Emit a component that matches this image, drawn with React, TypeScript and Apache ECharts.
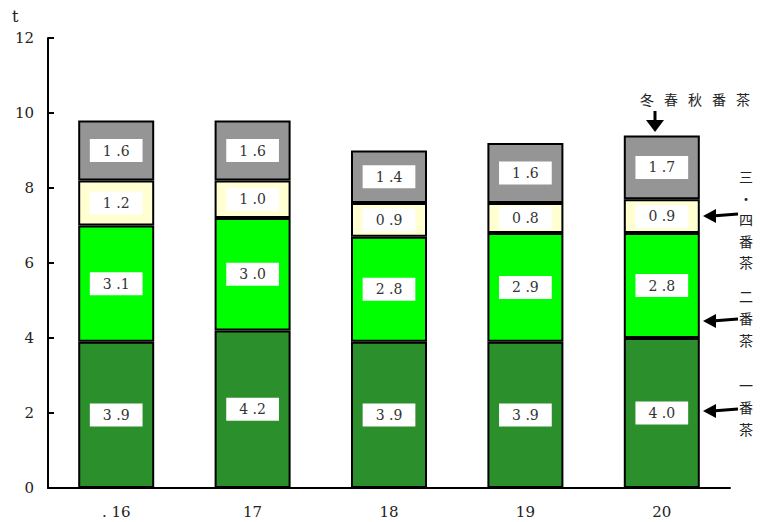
import React, { useEffect, useRef } from "react";
import * as echarts from "echarts";

const categories = [". 16", "17", "18", "19", "20"];
const ichiban = [3.9, 4.2, 3.9, 3.9, 4.0];
const niban = [3.1, 3.0, 2.8, 2.9, 2.8];
const sanyon = [1.2, 1.0, 0.9, 0.8, 0.9];
const toshun = [1.6, 1.6, 1.4, 1.6, 1.7];
const seriesNames = ["一番茶", "二番茶", "三・四番茶", "冬春秋番茶"];
const seriesColors = ["#2b8f2b", "#00ff00", "#ffffd2", "#959595"];

const SERIF = "DejaVu Serif";
const CJK = "Noto Sans CJK JP";

export default function App() {
  const ref = useRef<HTMLDivElement>(null);
  useEffect(() => {
    const chart = echarts.init(ref.current!, null, { renderer: "svg" });
    const data = [ichiban, niban, sanyon, toshun];
    const vtext = (chars: string[], x: number, y0: number, step: number) =>
      chars.map((c, i) => ({
        type: "text",
        left: x,
        top: y0 + i * step,
        style: { text: c, fontFamily: CJK, fontSize: 14, fill: "#222" },
      }));
    const htext = (chars: string[], x0: number, y: number, step: number) =>
      chars.map((c, i) => ({
        type: "text",
        left: x0 + i * step,
        top: y,
        style: { text: c, fontFamily: CJK, fontSize: 14, fill: "#222" },
      }));
    const leftArrow = (y: number) => [
      { type: "line", shape: { x1: 712, y1: y, x2: 738, y2: y - 2 }, style: { stroke: "#000", lineWidth: 3 } },
      { type: "polygon", shape: { points: [[703, y], [716, y - 7], [716, y + 7]] }, style: { fill: "#000" } },
    ];
    chart.setOption({
      animation: false,
      textStyle: { fontFamily: SERIF },
      grid: { left: 48, right: 30, top: 38, bottom: 34 },
      xAxis: {
        type: "category",
        data: categories,
        axisLine: { lineStyle: { color: "#000", width: 2 } },
        axisTick: { show: false },
        axisLabel: { fontFamily: SERIF, fontSize: 15, color: "#222", margin: 16 },
      },
      yAxis: {
        type: "value",
        min: 0,
        max: 12,
        interval: 2,
        splitLine: { show: false },
        axisLine: { show: true, lineStyle: { color: "#000", width: 2 } },
        axisTick: { show: true, inside: true, length: 6, lineStyle: { color: "#000", width: 2 } },
        axisLabel: { fontFamily: SERIF, fontSize: 15, color: "#222", margin: 14 },
      },
      series: data.map((d, i) => ({
        name: seriesNames[i],
        type: "bar",
        stack: "total",
        barWidth: 76,
        data: d,
        itemStyle: { color: seriesColors[i], borderColor: "#000", borderWidth: 2 },
        label: {
          show: true,
          position: "inside",
          formatter: (p: any) => p.value.toFixed(1).split("").join(" ").replace(" . ", " ."),
          fontFamily: SERIF,
          fontSize: 14,
          color: "#333",
          backgroundColor: "#fff",
          padding: [5, 13, 4, 13],
        },
      })),
      graphic: [
        { type: "text", left: 12, top: 8, style: { text: "t", fontFamily: SERIF, fontSize: 16, fill: "#222" } },
        ...htext(["冬", "春", "秋", "番", "茶"], 640, 92, 24),
        { type: "line", shape: { x1: 655, y1: 111, x2: 655, y2: 122 }, style: { stroke: "#000", lineWidth: 3 } },
        { type: "polygon", shape: { points: [[646, 120], [664, 120], [655, 132]] }, style: { fill: "#000" } },
        ...vtext(["三", "・", "四", "番", "茶"], 739, 169, 21.5),
        ...leftArrow(216),
        ...vtext(["二", "番", "茶"], 739, 289, 22),
        ...leftArrow(321),
        ...vtext(["一", "番", "茶"], 739, 378, 22),
        ...leftArrow(411),
      ],
    });
    return () => chart.dispose();
  }, []);
  return (
    <div
      ref={ref}
      style={{ position: "absolute", left: 0, top: 0, width: 760, height: 522 }}
    />
  );
}
